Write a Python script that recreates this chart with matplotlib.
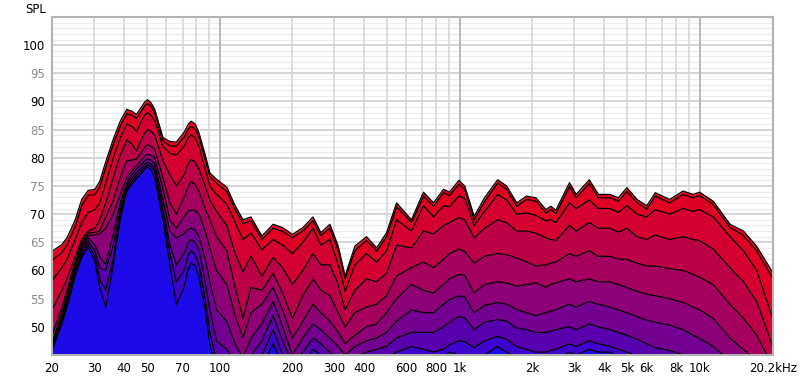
import numpy as np
import matplotlib.pyplot as plt
from matplotlib.ticker import NullLocator

# frequency points (Hz) read along the x axis
freqs = [20, 22, 23.1, 25, 26.6, 28.3, 30.2, 31.6, 33.5, 36, 38.5, 41, 43, 45, 47.5, 48.7, 50, 51.5,
         53.6, 58, 62, 66, 71, 74, 76, 79, 82, 87, 91, 97, 107, 116, 125, 135, 150, 167, 183,
         201, 222, 245, 264, 288, 312, 333, 366, 409, 451, 496, 546, 630, 707, 779, 857,
         907, 993, 1050, 1150, 1270, 1440, 1570, 1730, 1900, 2080, 2290, 2400, 2520,
         2870, 3060, 3470, 3790, 4240, 4590, 4980, 5490, 6030, 6540, 7510, 8540, 9400,
         10000, 11400, 13400, 15240, 17300, 20200]

# SPL (dB) of each decay slice, first (red, front) to last (blue, back)
slice0 = [63.4, 64.6, 65.8, 69.0, 72.6, 74.2, 74.4, 75.8, 79.3, 83.3, 86.5, 88.6, 88.3, 87.7, 89.2, 89.9, 90.3, 89.9,
          88.6, 83.6, 82.9, 82.8, 84.5, 86.0, 86.5, 86.0, 84.4, 80.5, 77.3, 76.2, 74.8, 71.5, 69.0, 69.5, 66.1, 68.2, 67.6,
          66.4, 67.6, 69.5, 66.7, 68.2, 64.3, 59.0, 64.3, 66.0, 64.0, 66.7, 72.0, 69.0, 73.9, 72.0, 74.4,
          73.9, 76.0, 75.0, 69.6, 72.9, 76.1, 75.0, 72.0, 73.2, 72.9, 70.8, 71.4, 70.7,
          75.6, 73.5, 76.1, 73.5, 73.5, 72.9, 74.7, 72.6, 71.5, 73.8, 72.6, 74.1, 73.5,
          73.9, 72.3, 68.2, 67.0, 64.3, 59.6]
slice1 = [61.8, 63.2, 64.5, 67.8, 71.5, 73.3, 73.5, 74.8, 78.3, 82.4, 85.6, 87.8, 87.6, 87.0, 88.5, 89.2, 89.6, 89.2,
          88.0, 83.0, 82.1, 82.1, 83.6, 85.1, 85.6, 85.1, 83.6, 79.8, 76.7, 75.5, 74.0, 70.8, 68.3, 68.8, 65.5, 67.5, 66.9,
          65.8, 67.0, 68.8, 66.2, 67.5, 63.6, 58.5, 63.5, 65.3, 63.4, 66.0, 71.3, 68.5, 73.2, 71.4, 73.8,
          73.3, 75.3, 74.4, 69.0, 72.2, 75.5, 74.4, 71.4, 72.6, 72.3, 70.2, 70.8, 70.1,
          74.9, 72.9, 75.4, 72.9, 72.9, 72.3, 74.0, 72.0, 70.9, 73.2, 72.0, 73.5, 72.9,
          73.3, 71.7, 67.6, 66.2, 63.5, 58.6]
slice2 = [58.2, 60.5, 62.0, 65.5, 68.5, 70.3, 70.8, 72.0, 75.5, 80.0, 83.5, 86.0, 85.6, 84.7, 86.8, 87.6, 88.0, 87.6,
          86.6, 82.0, 80.8, 80.5, 82.0, 83.6, 84.1, 83.5, 82.0, 78.0, 75.0, 73.5, 71.8, 68.5, 65.5, 66.6, 63.7, 65.5, 64.5,
          63.0, 65.0, 67.5, 64.5, 65.5, 61.0, 56.3, 61.0, 63.0, 61.5, 63.5, 69.0, 67.0, 71.5, 69.5, 71.5,
          71.3, 73.2, 72.8, 68.0, 70.5, 73.5, 72.5, 70.0, 70.2, 69.8, 68.8, 69.0, 68.5,
          72.0, 71.0, 72.5, 71.0, 71.0, 70.3, 71.5, 70.0, 69.5, 70.8, 70.0, 71.0, 70.5,
          70.8, 69.5, 66.0, 63.5, 60.0, 51.5]
slice3 = [53.0, 56.5, 58.5, 62.5, 65.5, 67.0, 67.5, 69.0, 72.0, 76.5, 80.5, 83.2, 82.5, 81.2, 83.5, 84.4, 85.0, 84.8,
          84.0, 79.5, 77.0, 75.0, 77.0, 79.0, 79.7, 79.3, 78.0, 75.0, 72.5, 70.5, 68.0, 63.0, 59.8, 62.5, 59.0, 62.3, 60.5,
          57.5, 60.0, 63.0, 61.0, 61.0, 57.5, 53.0, 56.5, 58.5, 58.0, 59.5, 64.5, 64.0, 67.0, 66.5, 68.0,
          68.5, 69.4, 69.0, 65.8, 67.5, 69.0, 68.5, 67.0, 67.0, 66.6, 65.8, 65.5, 65.3,
          68.0, 67.0, 68.5, 67.5, 67.5, 66.8, 67.5, 66.0, 65.5, 66.3, 65.5, 66.0, 65.5,
          65.3, 63.8, 60.5, 58.0, 54.5, 46.5]
slice4 = [48.5, 53.5, 56.5, 61.5, 65.0, 66.6, 66.8, 67.0, 69.5, 72.5, 76.5, 79.5, 79.6, 79.8, 81.2, 81.9, 82.3, 82.1,
          81.5, 76.5, 72.0, 70.0, 73.0, 75.0, 75.8, 75.3, 74.0, 71.0, 69.0, 66.0, 63.5, 57.0, 51.5, 57.0, 56.5, 59.5, 56.0,
          51.5, 55.5, 58.5, 56.5, 55.5, 52.5, 50.0, 52.5, 53.5, 54.0, 55.5, 59.0, 60.5, 61.5, 60.5, 62.0,
          63.0, 63.8, 63.4, 61.3, 62.5, 63.0, 62.8, 62.2, 61.5, 60.8, 61.0, 61.3, 61.5,
          63.0, 62.5, 63.5, 62.5, 62.5, 62.0, 62.0, 61.3, 60.8, 60.8, 60.3, 60.0, 59.3,
          58.8, 57.5, 54.0, 51.5, 48.5, 43.0]
slice5 = [47.2, 52.5, 55.5, 61.0, 64.5, 66.2, 66.3, 66.5, 67.5, 70.0, 73.5, 76.5, 77.6, 78.6, 79.8, 80.3, 80.6, 80.5,
          80.0, 74.5, 69.0, 67.5, 69.5, 70.5, 70.8, 70.6, 70.0, 67.0, 64.0, 60.0, 57.5, 52.0, 48.0, 52.5, 54.0, 57.0, 53.0,
          48.0, 51.0, 54.0, 52.5, 51.0, 49.0, 47.0, 48.5, 50.0, 50.5, 52.5, 55.0, 57.5, 56.5, 56.0, 57.5,
          58.5, 59.3, 59.2, 56.0, 57.5, 58.0, 57.8, 57.2, 57.5, 57.8, 57.0, 57.5, 57.8,
          58.5, 58.0, 58.5, 58.0, 58.0, 57.5, 57.0, 56.3, 55.8, 55.5, 55.0, 54.3, 53.5,
          53.0, 51.5, 48.0, 46.0, 44.0, 41.5]
slice6 = [46.8, 52.0, 55.0, 60.5, 64.0, 65.8, 64.5, 62.5, 61.0, 66.5, 72.0, 75.5, 77.0, 78.0, 79.0, 79.5, 79.8, 79.6,
          79.0, 72.5, 67.0, 65.8, 66.5, 67.3, 67.5, 67.2, 66.0, 62.0, 58.0, 53.0, 51.0, 47.0, 44.5, 48.0, 50.5, 54.5, 50.0,
          45.0, 48.0, 50.5, 49.5, 48.0, 46.5, 45.0, 46.5, 47.5, 48.0, 49.0, 51.0, 53.0, 52.5, 52.5, 54.0,
          54.8, 55.5, 55.3, 52.5, 53.8, 54.3, 54.0, 53.1, 52.5, 52.0, 52.5, 52.8, 53.0,
          54.0, 53.5, 54.5, 54.0, 53.5, 53.0, 52.5, 51.8, 51.2, 50.8, 50.3, 49.5, 48.5,
          48.0, 46.5, 44.0, 43.0, 42.0, 41.0]
slice7 = [46.5, 51.5, 54.5, 60.0, 63.5, 65.2, 63.5, 60.5, 60.0, 64.5, 71.0, 75.0, 76.3, 77.4, 78.3, 78.9, 79.2, 79.0,
          78.2, 71.0, 64.5, 61.0, 63.0, 65.0, 65.5, 65.0, 63.5, 58.0, 53.0, 47.5, 46.0, 44.0, 43.0, 45.0, 47.5, 52.0, 47.5,
          43.5, 45.5, 48.0, 47.0, 45.5, 44.5, 43.5, 44.5, 45.5, 46.0, 46.5, 48.0, 49.0, 49.0, 49.0, 50.0,
          50.8, 51.8, 51.6, 49.5, 50.8, 51.3, 51.0, 49.8, 49.5, 49.0, 49.0, 49.2, 49.5,
          50.0, 49.5, 50.5, 50.0, 49.5, 49.0, 48.5, 47.8, 47.0, 46.3, 45.8, 45.0, 44.3,
          43.8, 43.0, 42.0, 41.5, 41.0, 40.0]
slice8 = [46.2, 51.0, 54.0, 59.5, 62.8, 64.7, 62.5, 58.5, 56.5, 62.0, 70.0, 74.5, 75.8, 76.8, 77.8, 78.4, 78.8, 78.6,
          77.5, 70.0, 63.0, 58.0, 60.0, 62.8, 63.5, 62.8, 61.0, 55.0, 49.0, 44.0, 43.0, 42.0, 42.0, 43.0, 45.0, 49.5, 45.0,
          42.0, 43.5, 46.0, 45.0, 43.5, 43.0, 42.0, 43.0, 43.5, 44.0, 44.5, 45.5, 46.5, 46.0, 45.5, 46.0,
          46.8, 47.5, 47.4, 46.3, 47.5, 48.3, 47.8, 46.5, 46.0, 45.5, 45.5, 45.8, 46.0,
          47.0, 46.5, 47.5, 47.0, 46.5, 46.0, 45.5, 44.8, 44.0, 43.5, 43.0, 42.5, 42.0,
          41.5, 41.0, 40.5, 40.5, 40.0, 40.0]
slice9 = [45.8, 50.5, 53.5, 59.0, 62.3, 64.2, 61.5, 57.0, 53.5, 61.0, 69.0, 74.0, 75.3, 76.3, 77.3, 78.0, 78.4, 78.0,
          76.5, 69.0, 61.0, 54.0, 57.0, 60.3, 61.3, 60.8, 59.0, 53.0, 47.0, 42.0, 41.0, 41.0, 41.0, 42.0, 43.0, 47.0, 43.0,
          41.0, 42.0, 44.5, 43.5, 42.0, 42.0, 41.0, 42.0, 42.5, 42.5, 43.0, 43.5, 44.0, 44.0, 43.5, 44.5,
          45.5, 45.0, 44.5, 43.5, 45.0, 46.5, 45.5, 44.5, 44.0, 43.5, 43.5, 43.8, 44.0,
          45.5, 45.0, 46.0, 45.5, 45.5, 44.5, 43.5, 43.0, 42.0, 41.5, 41.0, 40.5, 40.0,
          40.0, 40.0, 40.0, 40.0, 40.0, 40.0]
slices = [slice0, slice1, slice2, slice3, slice4, slice5, slice6, slice7, slice8, slice9]

x_ticks = [20, 30, 40, 50, 70, 100, 200, 300, 400, 600, 800, 1000,
           2000, 3000, 4000, 5000, 6000, 8000, 10000, 20200]
x_labels = ['20', '30', '40', '50', '70', '100', '200', '300', '400', '600', '800', '1k',
            '2k', '3k', '4k', '5k', '6k', '8k', '10k', '20.2kHz']
y_ticks = [50, 55, 60, 65, 70, 75, 80, 85, 90, 95, 100]

# slice fill colours, red (first) through purple to blue (last)
slice_colors = ['#e8001c', '#e00024', '#d40032', '#bc0048', '#a5005f',
                '#8c0078', '#730092', '#5800ae', '#3c04cc', '#1c0ae8']

fig = plt.figure(figsize=(8, 3.78), dpi=100)
ax = fig.add_axes([0.065, 0.061, 0.901, 0.894])
ax.set_xscale('log')
ax.set_xlim(20, 20200)
ax.set_ylim(45, 105)

# grid
for db in range(46, 105):
    if db % 5 == 0:
        ax.axhline(db, color='#d2d2d2', lw=1.3, zorder=0)
    else:
        ax.axhline(db, color='#ebebeb', lw=0.8, zorder=0)
for dec in [10, 100, 1000]:
    for m in range(2, 10):
        f = dec * m
        if 20 < f < 20200:
            ax.axvline(f, color='#d8d8d8', lw=1.2, zorder=0)
for f in [100, 1000, 10000]:
    ax.axvline(f, color='#b8b8b8', lw=1.4, zorder=0)

# decay slices, front to back
for i, s in enumerate(slices):
    ax.fill_between(freqs, s, 40, color=slice_colors[i], lw=0, zorder=2 + 2 * i)
    ax.plot(freqs, s, color='black', lw=0.9, zorder=3 + 2 * i)

ax.set_xticks(x_ticks)
ax.set_xticklabels(x_labels, fontsize=8.5)
ax.xaxis.set_minor_locator(NullLocator())
ax.set_yticks(y_ticks)
ax.set_yticklabels([str(v) for v in y_ticks], fontsize=8.5)
for lab, v in zip(ax.get_yticklabels(), y_ticks):
    lab.set_color('black' if v % 10 == 0 else '#8c8c8c')
ax.tick_params(length=0, pad=5)

for sp in ax.spines.values():
    sp.set_color('#b4b4b4')
    sp.set_linewidth(1.5)
    sp.set_zorder(50)

fig.text(0.045, 0.976, 'SPL', ha='center', va='center', fontsize=8.5)

fig.savefig('out.png', dpi=100)
